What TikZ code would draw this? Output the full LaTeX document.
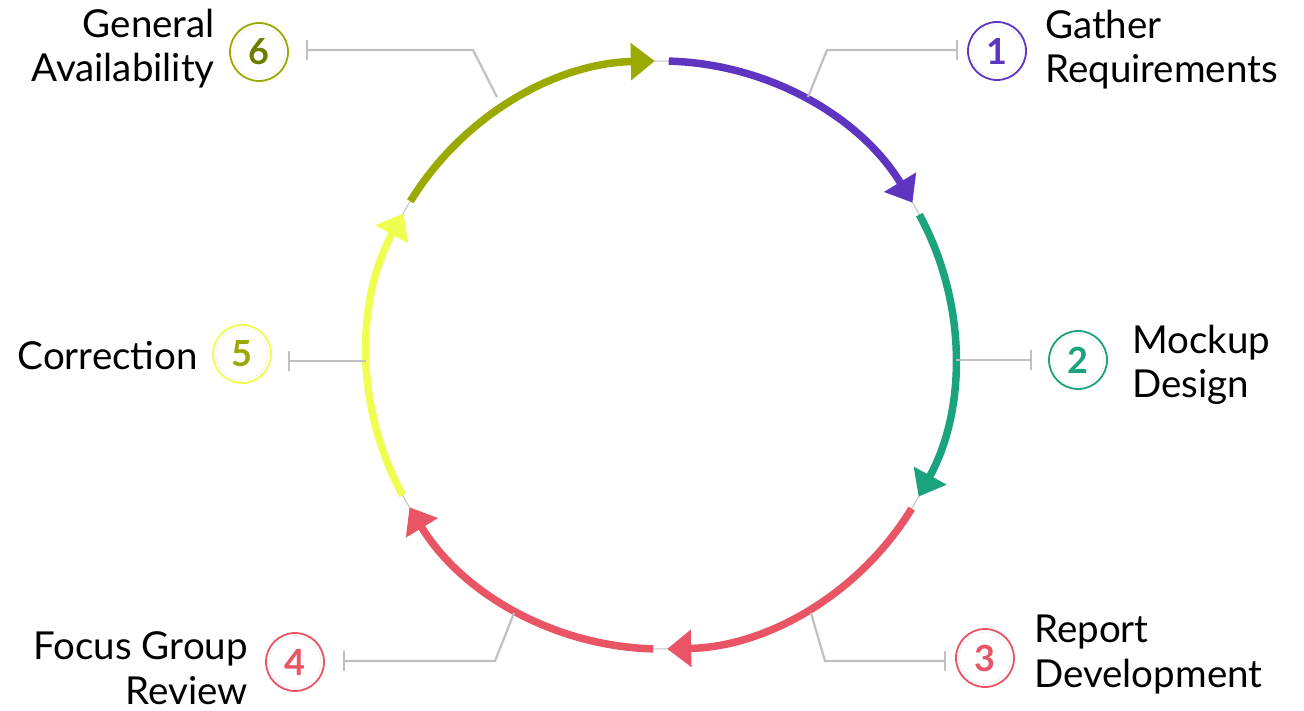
\documentclass[tikz,border=0pt]{standalone}
\usepackage{fontspec}
\setmainfont{Lato}
\usetikzlibrary{arrows.meta,calc}
\definecolor{cPurple}{RGB}{94,53,193}
\definecolor{cGreen}{RGB}{26,163,125}
\definecolor{cRed}{RGB}{234,85,101}
\definecolor{cYellow}{RGB}{238,255,80}
\definecolor{cOlive}{RGB}{154,170,0}
\definecolor{cOliveDark}{RGB}{110,125,0}
\definecolor{cLead}{RGB}{192,192,192}
\begin{document}
\begin{tikzpicture}[x=1pt,y=1pt,
  seg/.style={line width=7.5pt, -{Triangle[length=24pt,width=36pt]}},
  ring/.style={draw=cLead, line width=1pt},
  leader/.style={draw=cLead, line width=2.2pt, -{Bar[width=20pt]}},
  numc/.style={circle, minimum size=58pt, inner sep=0pt, line width=1.8pt, fill=white,
    font=\fontsize{36}{36}\selectfont\bfseries},
  inring/.style={draw=gray!30, dotted, line width=0.8pt},
  lbl/.style={font=\fontsize{38.5}{44.5}\selectfont, inner sep=0pt, text=black},
]
\useasboundingbox (0,0) rectangle (1304,710);
\coordinate (C) at (661,355);
\draw[ring] (C) circle[radius=294pt];

% arcs
\draw[seg, color=cPurple] ($(C)+(88.5:294pt)$) arc[start angle=88.5, end angle=31.2, radius=294pt];
\draw[seg, color=cGreen] ($(C)+(28.5:294pt)$) arc[start angle=28.5, end angle=-28.8, radius=294pt];
\draw[seg, color=cRed] ($(C)+(-31.5:294pt)$) arc[start angle=-31.5, end angle=-88.8, radius=294pt];
\draw[seg, color=cRed] ($(C)+(-91.5:294pt)$) arc[start angle=-91.5, end angle=-148.8, radius=294pt];
\draw[seg, color=cYellow] ($(C)+(-151.5:294pt)$) arc[start angle=-151.5, end angle=-208.8, radius=294pt];
\draw[seg, color=cOlive] ($(C)+(148.5:294pt)$) arc[start angle=148.5, end angle=91.2, radius=294pt];

% number circles
\node[numc, draw=cPurple, text=cPurple] (n1) at (997,659) {1};
\node[numc, draw=cGreen, text=cGreen] (n2) at (1078,350) {2};
\node[numc, draw=cRed, text=cRed] (n3) at (985,52) {3};
\node[numc, draw=cRed, text=cRed] (n4) at (295,48) {4};
\node[numc, draw=cYellow, text=cOlive] (n5) at (242,356) {5};
\node[numc, draw=cOlive, text=cOliveDark] (n6) at (259,658) {6};
\foreach \n in {n1,n2,n3,n4,n5,n6} \draw[inring] (\n.center) circle[radius=26pt];

% labels (base = baseline of last line)
\node[lbl, anchor=base west, align=left] (t1) at (1045,627) {Gather\\Requirements};
\node[lbl, anchor=base west, align=left] (t2) at (1132,312) {Mockup\\Design};
\node[lbl, anchor=base west, align=left] (t3) at (1034,23) {Report\\Development};
\node[lbl, anchor=base east, align=right] (t4) at (248,6) {Focus Group\\Review};
\node[lbl, anchor=base east, align=right] (t5) at (198,340) {Correction};
\node[lbl, anchor=base east, align=right] (t6) at (215,628) {General\\Availability};

% leaders
\coordinate (p1) at (808,613); \coordinate (k1) at (827,660); \coordinate (e1) at (958,660);
\coordinate (p2) at (956,350); \coordinate (e2) at (1032,350);
\coordinate (p3) at (811,97); \coordinate (k3) at (825,49); \coordinate (e3) at (946,49);
\coordinate (p4) at (514,97); \coordinate (k4) at (495,49); \coordinate (e4) at (343,49);
\coordinate (p5) at (366,349); \coordinate (e5) at (288,349);
\coordinate (p6) at (497,613); \coordinate (k6) at (473,660); \coordinate (e6) at (306,660);
\draw[leader] (p1) -- (k1) -- (e1);
\draw[leader] (p2) -- (e2);
\draw[leader] (p3) -- (k3) -- (e3);
\draw[leader] (p4) -- (k4) -- (e4);
\draw[leader] (p5) -- (e5);
\draw[leader] (p6) -- (k6) -- (e6);
\end{tikzpicture}
\end{document}
